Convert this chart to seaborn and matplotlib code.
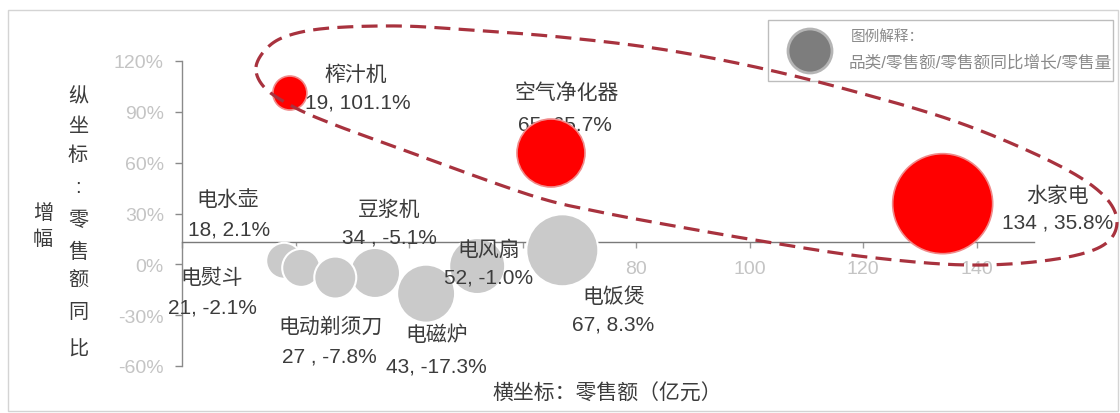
import matplotlib
matplotlib.use("Agg")
import matplotlib.pyplot as plt
import seaborn as sns
import pandas as pd
import numpy as np
from matplotlib.patches import Rectangle, Circle
from matplotlib.lines import Line2D
from matplotlib.transforms import Affine2D

# ---------------- data ----------------
categories = ['榨汁机', '空气净化器', '水家电', '电水壶', '豆浆机',
              '电熨斗', '电动剃须刀', '电磁炉', '电风扇', '电饭煲']
sales = [19, 65, 134, 18, 34, 21, 27, 43, 52, 67]                    # 零售额（亿元）
growth = [101.1, 65.7, 35.8, 2.1, -5.1, -2.1, -7.8, -17.3, -1.0, 8.3]  # 零售额同比增幅 %
volume = [289, 1156, 2500, 324, 625, 361, 441, 841, 784, 1296]       # 零售量（气泡面积，估读）
highlight = [True, True, True, False, False, False, False, False, False, False]
value_labels = ['19, 101.1%', '65, 65.7%', '134 , 35.8%', '18, 2.1%', '34 , -5.1%',
                '21, -2.1%', '27 , -7.8%', '43, -17.3%', '52, -1.0%', '67, 8.3%']
yticks = [-60, -30, 0, 30, 60, 90, 120]
ytick_labels = ['-60%', '-30%', '0%', '30%', '60%', '90%', '120%']
xticks = [0, 20, 40, 60, 80, 100, 120, 140]
xtick_labels = ['', '', '', '', '80', '100', '120', '140']
ytitle_col1 = '纵坐标：零售额同比'
ytitle_col2 = '增幅'
xtitle = '横坐标：零售额（亿元）'
legend_title = '图例解释：'
legend_text = '品类/零售额/零售额同比增长/零售量'

# label offsets in pixels (dx, dy down) for name line and value line
offsets = {
    '榨汁机': ((66, -19), (68, 9)),
    '空气净化器': ((16, -61), (14, -29)),
    '水家电': ((115, -8), (115, 18)),
    '电水壶': ((-56, -62), (-55, -32)),
    '豆浆机': ((14, -64), (14, -36)),
    '电熨斗': ((-90, 9), (-89, 39)),
    '电动剃须刀': ((-5, 48), (-6, 78)),
    '电磁炉': ((11, 41), (10, 72)),
    '电风扇': ((12, -17), (11, 11)),
    '电饭煲': ((51, 46), (51, 74)),
}

# hand-drawn highlight loop (pixel guide points, y measured from top)
loop_pts = [(256, 68), (268, 48), (290, 36), (330, 29), (400, 27), (470, 31),
            (560, 38), (660, 50), (760, 69), (860, 94), (960, 124), (1050, 162),
            (1100, 193), (1117, 222), (1102, 247), (1050, 261), (967, 266),
            (867, 258), (767, 243), (680, 228), (600, 213), (533, 197),
            (420, 157), (330, 124), (290, 106), (264, 88)]

df = pd.DataFrame({'category': categories, 'sales': sales, 'growth': growth,
                   'volume': volume, 'highlight': highlight, 'vlabel': value_labels})

# ---------------- style ----------------
sns.set_theme(style='white')
plt.rcParams['font.family'] = ['Liberation Sans', 'Noto Sans CJK SC', 'DejaVu Sans']
plt.rcParams['axes.unicode_minus'] = False

W, H = 1120, 414
fig = plt.figure(figsize=(W / 100, H / 100), dpi=100)
fig.patch.set_facecolor('white')
px = Affine2D().scale(1 / W, -1 / H).translate(0, 1) + fig.transFigure

ax = fig.add_axes([182 / W, (H - 367) / H, (1033.5 - 182) / W, (367 - 62) / H])
ax.set_facecolor('none')

smax = (2 * 50 * 0.72) ** 2
for grp, col, ec, lw, z in [(False, '#cacaca', 'white', 1.5, 2),
                            (True, '#ff0000', '#f08a8a', 1.2, 4)]:
    sub = df[df['highlight'] == grp]
    sns.scatterplot(data=sub, x='sales', y='growth', size='volume',
                    sizes=(0, smax), size_norm=(0, 2500), color=col,
                    edgecolor=ec, linewidth=lw, legend=False, ax=ax, zorder=z)

ax.set_xlim(0, 150)
ax.set_ylim(-60, 120)
ax.set_xticks(xticks)
ax.set_xticklabels(xtick_labels)
ax.set_yticks(yticks)
ax.set_yticklabels(ytick_labels)
ax.set_xlabel('')
ax.set_ylabel('')
ax.set_axisbelow(True)

for s in ['top', 'right']:
    ax.spines[s].set_visible(False)
ax.spines['bottom'].set_position(('data', 13))
ax.spines['bottom'].set_color('#7a7a7a')
ax.spines['bottom'].set_linewidth(1.0)
ax.spines['bottom'].set_zorder(1)
ax.spines['left'].set_bounds(-60, 120)
ax.spines['left'].set_color('#8a8a8a')
ax.spines['left'].set_linewidth(1.0)
ax.spines['left'].set_zorder(1)

ax.tick_params(axis='x', direction='out', length=4, width=1, color='#9a9a9a',
               labelcolor='#c4c4c4', labelsize=14, pad=9, bottom=True)
ax.tick_params(axis='y', direction='out', length=5, width=1, color='#8a8a8a',
               labelcolor='#c4c4c4', labelsize=14, pad=8, left=True)

# bubble labels
for _, r in df.iterrows():
    (dx1, dy1), (dx2, dy2) = offsets[r['category']]
    ax.annotate(r['category'], (r['sales'], r['growth']), xytext=(dx1, -dy1),
                textcoords='offset pixels', ha='center', va='center',
                fontsize=15, color='#3c3c3c', zorder=3, annotation_clip=False)
    ax.annotate(r['vlabel'], (r['sales'], r['growth']), xytext=(dx2, -dy2),
                textcoords='offset pixels', ha='center', va='center',
                fontsize=15, color='#3c3c3c', zorder=3, annotation_clip=False)

# y-axis title (vertical, two columns)
col1_y = [97, 127, 156, 188, 221, 252, 281, 313, 350]
for ch, yy in zip(ytitle_col1, col1_y):
    fig.text(78, yy, ch if ch != '：' else ':', transform=px, ha='center', va='center',
             fontsize=14.5, color='#3c3c3c')
for ch, yy in zip(ytitle_col2, [214, 240]):
    fig.text(43, yy, ch, transform=px, ha='center', va='center',
             fontsize=14.5, color='#3c3c3c')

# x-axis title
fig.text(607, 394, xtitle, transform=px, ha='center', va='center',
         fontsize=15, color='#3c3c3c')

# outer frame
fig.add_artist(Rectangle((8, 11), 1110, 401, transform=px, fill=False,
                         ec='#d4d4d4', lw=1.0))

# legend box
fig.add_artist(Rectangle((768, 21), 345, 61, transform=px, fc='white',
                         ec='#bdbdbd', lw=1.0, zorder=6))
fig.add_artist(Circle((810, 52), 22, transform=px, fc='#7d7d7d',
                      ec='#b5b5b5', lw=2.0, zorder=7))
fig.text(851, 37, legend_title, transform=px, ha='left', va='center',
         fontsize=10.5, color='#8a8a8a', zorder=7)
fig.text(849, 63, legend_text, transform=px, ha='left', va='center',
         fontsize=12, color='#8a8a8a', zorder=7)

# dashed highlight loop: closed Catmull-Rom curve through the guide points
P = np.array(loop_pts, dtype=float)
n = len(P)
t = np.linspace(0, 1, 24, endpoint=False)[:, None]
segs = []
for i in range(n):
    p0, p1, p2, p3 = P[(i - 1) % n], P[i], P[(i + 1) % n], P[(i + 2) % n]
    seg = 0.5 * ((2 * p1) + (-p0 + p2) * t + (2 * p0 - 5 * p1 + 4 * p2 - p3) * t ** 2
                 + (-p0 + 3 * p1 - 3 * p2 + p3) * t ** 3)
    segs.append(seg)
curve = np.vstack(segs + [P[:1]])
fig.add_artist(Line2D(curve[:, 0], curve[:, 1], transform=px, color='#a8323e',
                      lw=2.3, ls=(0, (5, 2.6)), zorder=8))

fig.savefig('out.png', dpi=100, facecolor='white')
